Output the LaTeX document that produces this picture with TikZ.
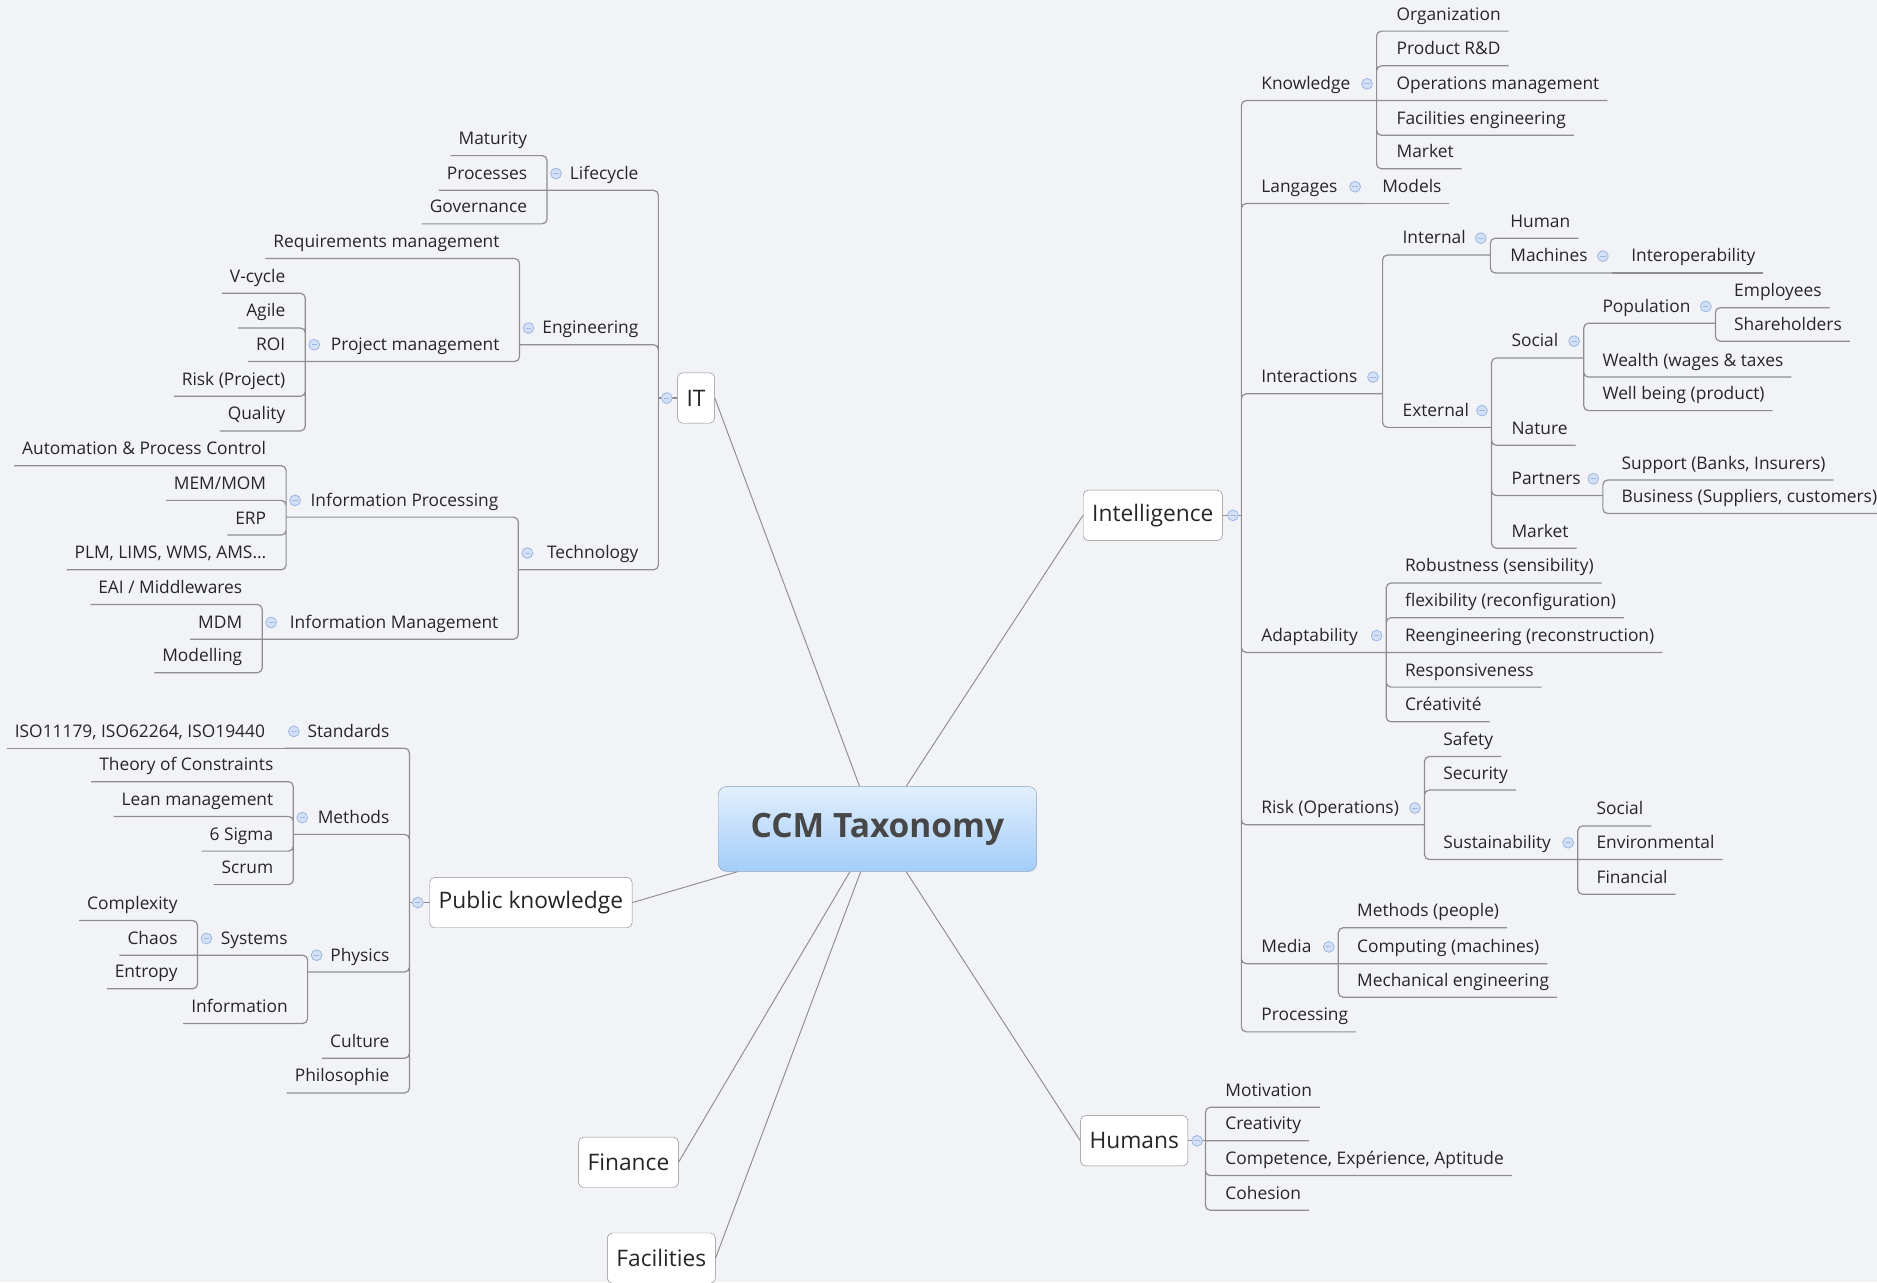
\documentclass[tikz,border=0pt]{standalone}
\usepackage{fontspec}
\setmainfont{Open Sans}
\usepackage{tikz}
\usetikzlibrary{calc,positioning}
\definecolor{bg-color}{HTML}{F2F3F7}
\definecolor{line-color}{HTML}{8E8E8E}
\definecolor{box-color}{HTML}{8A8A8A}
\definecolor{txt-color}{HTML}{262626}
\definecolor{root-top}{HTML}{E2EFFD}
\definecolor{root-bot}{HTML}{A3CDF9}
\definecolor{root-line}{HTML}{8DA3BD}
\definecolor{tog-fill}{HTML}{D3E0F5}
\definecolor{tog-line}{HTML}{9FB8E2}
\tikzset{
  link/.style={draw=line-color, line width=1pt, rounded corners=4pt},
  spoke/.style={draw=line-color, line width=0.8pt},
  topic/.style={font=\fontsize{14.5}{17}\selectfont, text=txt-color,
    inner xsep=6.5pt, inner ysep=5.5pt, text height=10pt, text depth=3.5pt},
  rt/.style={topic, anchor=south west},
  lt/.style={topic, anchor=south east},
  branch/.style={draw=box-color, fill=white, rounded corners=4pt, text=txt-color,
    font=\fontsize{19}{22}\selectfont, minimum height=42pt, inner xsep=7.5pt},
  root/.style={draw=root-line, top color=root-top, bottom color=root-bot,
    rounded corners=7pt, minimum width=266pt, minimum height=71pt,
    font=\fontsize{28}{31}\selectfont\bfseries, text=black!72},
  tog/.style={circle, minimum size=9pt, inner sep=0pt, draw=tog-line, fill=tog-fill,
    line width=0.7pt, path picture={\draw[tog-line, line width=0.8pt]
      ([xshift=-2.2pt]path picture bounding box.center) -- ([xshift=2.2pt]path picture bounding box.center);}}
}

\begin{document}
\begin{tikzpicture}[x=1pt, y=-1pt]
  \useasboundingbox (0,0) rectangle (1568,1071);
  \fill[bg-color] (0,0) rectangle (1568,1071);

  % central topic and main branches
  \node[root] (ccm) at (733,692.5) {CCM Taxonomy};
  \node[branch] (it) at (581.5,332.5) {IT};
  \node[branch] (intel) at (963,430.5) {Intelligence};
  \node[branch] (pk) at (443.5,754) {Public knowledge};
  \node[branch] (hum) at (947.5,953) {Humans};
  \node[branch] (fin) at (525,971) {Finance};
  \node[branch] (fac) at (552.5,1051) {Facilities};
  \draw[spoke] (it.east) -- ($(ccm.north)+(-15,0)$);
  \draw[spoke] (intel.west) -- ($(ccm.north)+(24,0)$);
  \draw[spoke] (pk.east) -- ($(ccm.south)+(-117,0)$);
  \draw[spoke] (fin.east) -- ($(ccm.south)+(-23,0)$);
  \draw[spoke] (fac.east) -- ($(ccm.south)+(-14,0)$);
  \draw[spoke] (hum.west) -- ($(ccm.south)+(24,0)$);

  % IT
  \coordinate (it-j) at (550,332.5);
  \node[lt] (life) at (540,159) {Lifecycle};
  \coordinate (life-j) at (457,159);
  \node[lt] (mat) at (447,130) {Maturity};
  \node[lt] (procs) at (447,159) {Processes};
  \node[lt] (gov) at (447,187) {Governance};
  \node[lt] (eng) at (540,288) {Engineering};
  \coordinate (eng-j) at (434,288);
  \node[lt] (req) at (424,216) {Requirements management};
  \node[lt] (pm) at (424,302) {Project management};
  \coordinate (pm-j) at (255,302);
  \node[lt] (vcyc) at (245,245) {V-cycle};
  \node[lt] (agile) at (245,274) {Agile};
  \node[lt] (roi) at (245,302) {ROI};
  \node[lt] (riskp) at (245,331) {Risk (Project)};
  \node[lt] (quality) at (245,360) {Quality};
  \node[lt] (tech) at (540,476) {Technology};
  \coordinate (tech-j) at (433,476);
  \node[lt] (infp) at (423,432) {Information Processing};
  \coordinate (infp-j) at (239,432);
  \node[lt] (auto) at (229,389) {Automation \& Process Control};
  \node[lt] (mem) at (229,418) {MEM/MOM};
  \node[lt] (erp) at (229,447) {ERP};
  \node[lt] (plm) at (229,476) {PLM, LIMS, WMS, AMS…};
  \node[lt] (infm) at (423,534) {Information Management};
  \coordinate (infm-j) at (219,534);
  \node[lt] (eai) at (209,505) {EAI / Middlewares};
  \node[lt] (mdm) at (209,534) {MDM};
  \node[lt] (modl) at (209,562) {Modelling};
  \draw[link] (it.west) -- (it-j);
  \draw[link] (it-j) |- (life-j) (it-j) |- (eng-j) (it-j) |- (tech-j);
  \draw[link] (life-j) |- (mat.south west) (life-j) -- (procs.south west) (life-j) |- (gov.south west);
  \draw[link] (eng-j) |- (req.south west) (eng-j) |- (pm-j);
  \draw[link] (pm-j) |- (vcyc.south west) (pm-j) |- (agile.south west) (pm-j) -- (roi.south west)
    (pm-j) |- (riskp.south west) (pm-j) |- (quality.south west);
  \draw[link] (tech-j) |- (infp-j) (tech-j) |- (infm-j);
  \draw[link] (infp-j) |- (auto.south west) (infp-j) |- (mem.south west)
    (infp-j) |- (erp.south west) (infp-j) |- (plm.south west);
  \draw[link] (infm-j) |- (eai.south west) (infm-j) -- (mdm.south west) (infm-j) |- (modl.south west);

  % Public knowledge
  \coordinate (pk-j) at (342,754);
  \node[lt] (std) at (332,625) {Standards};
  \coordinate (std-j) at (238,625);
  \node[lt] (iso) at (228,625) {ISO11179, ISO62264, ISO19440};
  \node[lt] (meth) at (332,697) {Methods};
  \coordinate (meth-j) at (245,697);
  \node[lt] (toc) at (235,653) {Theory of Constraints};
  \node[lt] (lean) at (235,682) {Lean management};
  \node[lt] (sigma) at (235,711) {6 Sigma};
  \node[lt] (scrum) at (235,739) {Scrum};
  \node[lt] (phys) at (332,812) {Physics};
  \coordinate (phys-j) at (257,812);
  \node[lt] (sys) at (247,798) {Systems};
  \coordinate (sys-j) at (165,798);
  \node[lt] (cplx) at (155,769) {Complexity};
  \node[lt] (chaos) at (155,798) {Chaos};
  \node[lt] (entropy) at (155,826) {Entropy};
  \node[lt] (info) at (247,855) {Information};
  \node[lt] (culture) at (332,884) {Culture};
  \node[lt] (philo) at (332,913) {Philosophie};
  \draw[link] (pk.west) -- (pk-j);
  \draw[link] (pk-j) |- (std-j) (pk-j) |- (meth-j) (pk-j) |- (phys-j)
    (pk-j) |- (culture.south west) (pk-j) |- (philo.south west);
  \draw[link] (std-j) -- (iso.south west);
  \draw[link] (meth-j) |- (toc.south west) (meth-j) |- (lean.south west)
    (meth-j) |- (sigma.south west) (meth-j) |- (scrum.south west);
  \draw[link] (phys-j) |- (sys-j) (phys-j) |- (info.south west);
  \draw[link] (sys-j) |- (cplx.south west) (sys-j) -- (chaos.south west) (sys-j) |- (entropy.south west);

  % Intelligence
  \coordinate (intel-j) at (1037,430.5);
  \node[rt] (know) at (1047,84) {Knowledge};
  \coordinate (know-j) at (1150,84);
  \node[rt] (org) at (1160,26) {Organization};
  \node[rt] (rnd) at (1160,55) {Product R\&D};
  \node[rt] (ops) at (1160,84) {Operations management};
  \node[rt] (faceng) at (1160,113) {Facilities engineering};
  \node[rt] (mkt) at (1160,141) {Market};
  \node[rt] (lang) at (1047,170) {Langages};
  \coordinate (lang-j) at (1140,170);
  \node[rt] (models) at (1148,170) {Models};
  \node[rt] (inter) at (1047,329) {Interactions};
  \coordinate (inter-j) at (1155,329);
  \node[rt] (internal) at (1165,213) {Internal};
  \coordinate (internal-j) at (1245,213);
  \node[rt] (human) at (1255,199) {Human};
  \node[rt] (mach) at (1255,228) {Machines};
  \coordinate (mach-j) at (1347,228);
  \node[rt] (interop) at (1356,228) {Interoperability};
  \node[rt] (ext) at (1165,357) {External};
  \coordinate (ext-j) at (1246,357);
  \node[rt] (social) at (1256,299) {Social};
  \coordinate (social-j) at (1323,299);
  \node[rt] (pop) at (1332,270) {Population};
  \coordinate (pop-j) at (1433,270);
  \node[rt] (empl) at (1442,257) {Employees};
  \node[rt] (share) at (1442,285) {Shareholders};
  \node[rt] (wealth) at (1332,315) {Wealth (wages \& taxes};
  \node[rt] (well) at (1332,343) {Well being (product)};
  \node[rt] (nature) at (1256,372) {Nature};
  \node[rt] (partners) at (1256,414) {Partners};
  \coordinate (part-j) at (1339,414);
  \node[rt] (support) at (1348,401) {Support (Banks, Insurers)};
  \node[rt] (business) at (1348,429) {Business (Suppliers, customers)};
  \node[rt] (mktext) at (1256,458) {Market};
  \node[rt] (adapt) at (1047,545) {Adaptability};
  \coordinate (adapt-j) at (1158,545);
  \node[rt] (robust) at (1167,487) {Robustness (sensibility)};
  \node[rt] (flex) at (1167,516) {flexibility (reconfiguration)};
  \node[rt] (reeng) at (1167,545) {Reengineering (reconstruction)};
  \node[rt] (resp) at (1167,574) {Responsiveness};
  \node[rt] (creat) at (1167,603) {Créativité};
  \node[rt] (risk) at (1047,689) {Risk (Operations)};
  \coordinate (risk-j) at (1190,689);
  \node[rt] (safety) at (1199,632) {Safety};
  \node[rt] (security) at (1199,660) {Security};
  \node[rt] (sustain) at (1199,718) {Sustainability};
  \coordinate (sust-j) at (1318,718);
  \node[rt] (socrisk) at (1327,690) {Social};
  \node[rt] (env) at (1327,718) {Environmental};
  \node[rt] (finrisk) at (1327,747) {Financial};
  \node[rt] (media) at (1047,805) {Media};
  \coordinate (media-j) at (1118,805);
  \node[rt] (methp) at (1127,775) {Methods (people)};
  \node[rt] (comp) at (1127,805) {Computing (machines)};
  \node[rt] (mech) at (1127,833) {Mechanical engineering};
  \node[rt] (proc) at (1047,862) {Processing};
  \draw[link] (intel.east) -- (intel-j);
  \draw[link] (intel-j) |- (know-j) (intel-j) |- (lang-j) (intel-j) |- (inter-j) (intel-j) |- (adapt-j)
    (intel-j) |- (risk-j) (intel-j) |- (media-j) (intel-j) |- (proc.south east);
  \draw[link] (know-j) |- (org.south east) (know-j) |- (rnd.south east) (know-j) -- (ops.south east)
    (know-j) |- (faceng.south east) (know-j) |- (mkt.south east);
  \draw[link] (lang-j) -- (models.south east);
  \draw[link] (inter-j) |- (internal-j) (inter-j) |- (ext-j);
  \draw[link] (internal-j) |- (human.south east) (internal-j) |- (mach-j);
  \draw[link] (mach-j) -- (interop.south east);
  \draw[link] (ext-j) |- (social-j) (ext-j) |- (nature.south east) (ext-j) |- (part-j) (ext-j) |- (mktext.south east);
  \draw[link] (social-j) |- (pop-j) (social-j) |- (wealth.south east) (social-j) |- (well.south east);
  \draw[link] (pop-j) |- (empl.south east) (pop-j) |- (share.south east);
  \draw[link] (part-j) |- (support.south east) (part-j) |- (business.south east);
  \draw[link] (adapt-j) |- (robust.south east) (adapt-j) |- (flex.south east) (adapt-j) -- (reeng.south east)
    (adapt-j) |- (resp.south east) (adapt-j) |- (creat.south east);
  \draw[link] (risk-j) |- (safety.south east) (risk-j) |- (security.south east) (risk-j) |- (sust-j);
  \draw[link] (sust-j) |- (socrisk.south east) (sust-j) -- (env.south east) (sust-j) |- (finrisk.south east);
  \draw[link] (media-j) |- (methp.south east) (media-j) -- (comp.south east) (media-j) |- (mech.south east);

  % Humans
  \coordinate (hum-j) at (1007,953);
  \node[rt] (motiv) at (1017,925) {Motivation};
  \node[rt] (creativ) at (1017,953) {Creativity};
  \node[rt] (compet) at (1017,982) {Competence, Expérience, Aptitude};
  \node[rt] (cohes) at (1017,1011) {Cohesion};
  \draw[link] (hum.east) -- (hum-j);
  \draw[link] (hum-j) |- (motiv.south east) (hum-j) -- (creativ.south east)
    (hum-j) |- (compet.south east) (hum-j) |- (cohes.south east);

  % collapse markers
  \node[tog] (it-t) at ($(it-j)+(7,0)$) {};
  \node[tog] (intel-t) at ($(intel-j)+(-7,0)$) {};
  \node[tog] (pk-t) at ($(pk-j)+(7,0)$) {};
  \node[tog] (hum-t) at ($(hum-j)+(-7,0)$) {};
  \node[tog] (life-t) at ($(life-j)+(7.5,-14)$) {};
  \node[tog] (eng-t) at ($(eng-j)+(7.5,-14)$) {};
  \node[tog] (pm-t) at ($(pm-j)+(7.5,-14)$) {};
  \node[tog] (tech-t) at ($(tech-j)+(7.5,-14)$) {};
  \node[tog] (infp-t) at ($(infp-j)+(7.5,-14)$) {};
  \node[tog] (infm-t) at ($(infm-j)+(7.5,-14)$) {};
  \node[tog] (std-t) at ($(std-j)+(7.5,-14)$) {};
  \node[tog] (meth-t) at ($(meth-j)+(7.5,-14)$) {};
  \node[tog] (phys-t) at ($(phys-j)+(7.5,-14)$) {};
  \node[tog] (sys-t) at ($(sys-j)+(7.5,-14)$) {};
  \node[tog] (know-t) at ($(know-j)+(-8,-14)$) {};
  \node[tog] (lang-t) at ($(lang-j)+(-8,-14)$) {};
  \node[tog] (inter-t) at ($(inter-j)+(-8,-14)$) {};
  \node[tog] (internal-t) at ($(internal-j)+(-8,-14)$) {};
  \node[tog] (mach-t) at ($(mach-j)+(-8,-14)$) {};
  \node[tog] (ext-t) at ($(ext-j)+(-8,-14)$) {};
  \node[tog] (social-t) at ($(social-j)+(-8,-14)$) {};
  \node[tog] (pop-t) at ($(pop-j)+(-8,-14)$) {};
  \node[tog] (part-t) at ($(part-j)+(-8,-14)$) {};
  \node[tog] (adapt-t) at ($(adapt-j)+(-8,-14)$) {};
  \node[tog] (risk-t) at ($(risk-j)+(-8,-14)$) {};
  \node[tog] (sust-t) at ($(sust-j)+(-8,-14)$) {};
  \node[tog] (media-t) at ($(media-j)+(-8,-14)$) {};
\end{tikzpicture}
\end{document}
